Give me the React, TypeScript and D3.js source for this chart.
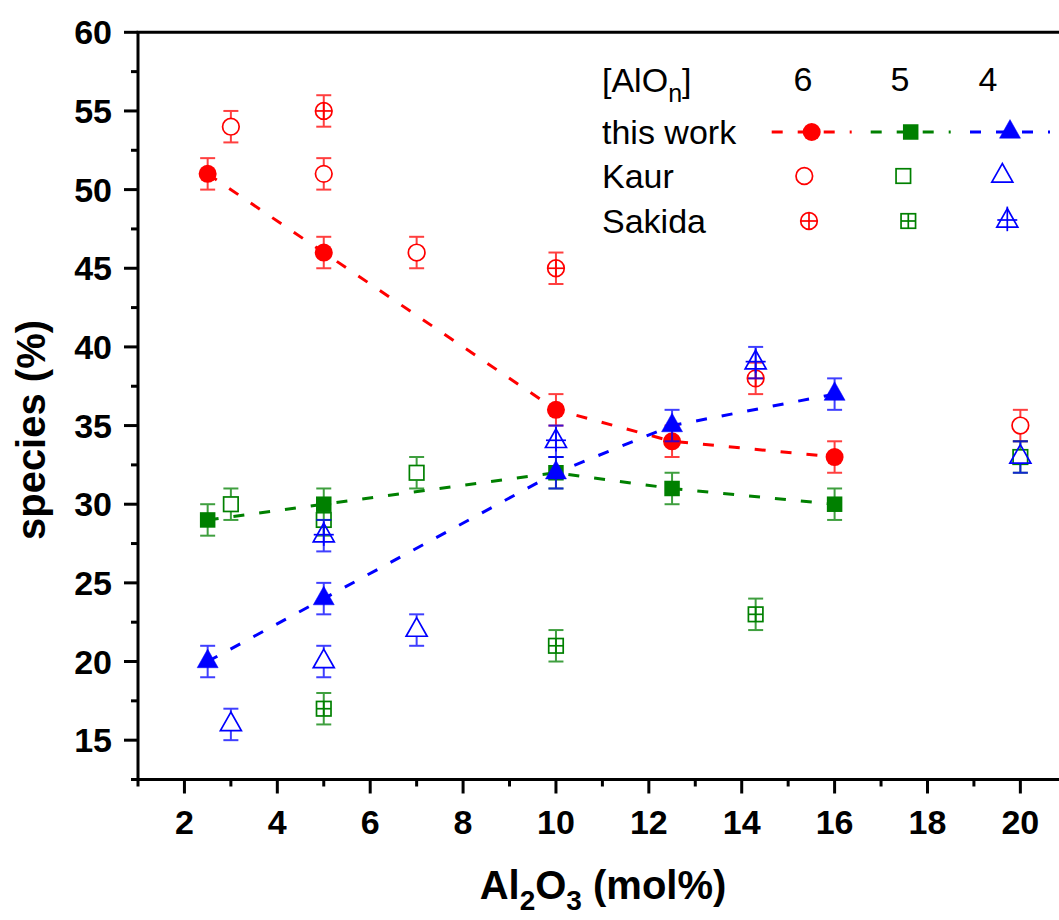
import React from "react";
import * as d3 from "d3";

// ---------- data ----------
const thisWorkX = [2.5, 5, 10, 12.5, 16];
const thisWork6 = [51, 46, 36, 34, 33];
const thisWork5 = [29, 30, 32, 31, 30];
const thisWork4 = [20, 24, 32, 35, 37];

const kaurX = [3, 5, 7, 20];
const kaur6 = [54, 51, 46, 35];
const kaur5 = [30, 29, 32, 33];
const kaur4 = [16, 20, 22, 33];

const sakidaX = [5, 10, 14.3];
const sakida6 = [55, 45, 38];
const sakida5 = [17, 21, 23];
const sakida4 = [28, 34, 39];

const errorValue = 1;

const xTicksMajor = [2, 4, 6, 8, 10, 12, 14, 16, 18, 20];
const xTicksMinor = [1, 3, 5, 7, 9, 11, 13, 15, 17, 19, 21];
const yTicksMajor = [15, 20, 25, 30, 35, 40, 45, 50, 55, 60];
const yTicksMinor = [12.5, 17.5, 22.5, 27.5, 32.5, 37.5, 42.5, 47.5, 52.5, 57.5];

const speciesLabels = ["6", "5", "4"];
const seriesNames = ["this work", "Kaur", "Sakida"];

// ---------- style ----------
const RED = "#FF0000";
const GREEN = "#008000";
const BLUE = "#0000FF";
const COLORS = [RED, GREEN, BLUE];
const SHAPES = ["circle", "square", "triangle"] as const;
type Shape = (typeof SHAPES)[number];
const FONT = "'Liberation Sans', Arial, Helvetica, sans-serif";

const W = 1059;
const H = 920;

const x = d3.scaleLinear().domain([1, 21]).range([138, 1066.8]);
const y = d3.scaleLinear().domain([12.5, 60]).range([779.5, 32.3]);

const TRI_SIDE = 21;
const TRI_H = 18.6;

function markerExtent(shape: Shape, filled: boolean) {
  if (shape === "circle") return { top: filled ? 9 : 8.5, bottom: filled ? 9 : 8.5 };
  if (shape === "square") return { top: 7.8, bottom: 7.8 };
  return { top: (TRI_H * 2) / 3, bottom: TRI_H / 3 };
}

function Marker({
  shape,
  cx,
  cy,
  color,
  filled,
  cross,
}: {
  shape: Shape;
  cx: number;
  cy: number;
  color: string;
  filled: boolean;
  cross: boolean;
}) {
  const sw = 1.7;
  const els: React.ReactNode[] = [];
  if (shape === "circle") {
    const r = filled ? 9 : 8.3;
    els.push(
      <circle key="m" cx={cx} cy={cy} r={r} fill={filled ? color : "none"} stroke={color} strokeWidth={filled ? 0 : sw} />
    );
    if (cross) {
      els.push(<line key="v" x1={cx} x2={cx} y1={cy - r} y2={cy + r} stroke={color} strokeWidth={sw} />);
      els.push(<line key="h" x1={cx - r} x2={cx + r} y1={cy} y2={cy} stroke={color} strokeWidth={sw} />);
    }
  } else if (shape === "square") {
    const s = filled ? 15.5 : 14.5;
    els.push(
      <rect key="m" x={cx - s / 2} y={cy - s / 2} width={s} height={s} fill={filled ? color : "none"} stroke={color} strokeWidth={filled ? 0 : sw} />
    );
    if (cross) {
      els.push(<line key="v" x1={cx} x2={cx} y1={cy - s / 2} y2={cy + s / 2} stroke={color} strokeWidth={sw} />);
      els.push(<line key="h" x1={cx - s / 2} x2={cx + s / 2} y1={cy} y2={cy} stroke={color} strokeWidth={sw} />);
    }
  } else {
    const top = cy - (TRI_H * 2) / 3;
    const bot = cy + TRI_H / 3;
    const pts = `${cx},${top} ${cx - TRI_SIDE / 2},${bot} ${cx + TRI_SIDE / 2},${bot}`;
    els.push(
      <polygon key="m" points={pts} fill={filled ? color : "none"} stroke={color} strokeWidth={filled ? 0.5 : sw} strokeLinejoin="miter" />
    );
    if (cross) {
      els.push(<line key="v" x1={cx} x2={cx} y1={top - 2} y2={bot + 4} stroke={color} strokeWidth={sw} />);
      els.push(<line key="h" x1={cx - 10} x2={cx + 10} y1={cy - 1} y2={cy - 1} stroke={color} strokeWidth={sw} />);
    }
  }
  return <g>{els}</g>;
}

function ErrorBar({
  cx,
  v,
  color,
  shape,
  filled,
  through,
}: {
  cx: number;
  v: number;
  color: string;
  shape: Shape;
  filled: boolean;
  through: boolean;
}) {
  const cy = y(v);
  const yt = y(v + errorValue);
  const yb = y(v - errorValue);
  const ext = markerExtent(shape, filled);
  const cap = 7.5;
  const sw = 2;
  return (
    <g stroke={color} strokeWidth={sw} opacity={0.75}>
      {through ? (
        <line x1={cx} x2={cx} y1={yt} y2={yb} />
      ) : (
        <>
          <line x1={cx} x2={cx} y1={yt} y2={cy - ext.top} />
          <line x1={cx} x2={cx} y1={cy + ext.bottom} y2={yb} />
        </>
      )}
      <line x1={cx - cap} x2={cx + cap} y1={yt} y2={yt} />
      <line x1={cx - cap} x2={cx + cap} y1={yb} y2={yb} />
    </g>
  );
}

export default function App() {
  const twSeries = [thisWork6, thisWork5, thisWork4];
  const kaurSeries = [kaur6, kaur5, kaur4];
  const sakSeries = [sakida6, sakida5, sakida4];

  const line = d3
    .line<number>()
    .x((_, i) => x(thisWorkX[i]))
    .y((d) => y(d));

  const groups = [
    { xs: thisWorkX, series: twSeries, filled: true, cross: false },
    { xs: kaurX, series: kaurSeries, filled: false, cross: false },
    { xs: sakidaX, series: sakSeries, filled: false, cross: true },
  ];

  const plotLeft = x(1);
  const plotBottom = y(12.5);
  const plotTop = y(60);

  // legend geometry
  const legTextX = 602;
  const legBase = [92, 144, 188, 233];
  const legLineCenters = [811.7, 910.7, 1010];
  const legMarkerX = [
    [811.7, 910.7, 1010],
    [804.3, 903.3, 1002.3],
    [809, 908.3, 1007.3],
  ];
  const legNumX = [803, 900, 988];

  return (
    <svg width={W} height={H} style={{ position: "absolute", left: 0, top: 0, background: "#fff" }} fontFamily={FONT}>
      <rect x={0} y={0} width={W} height={H} fill="#fff" />

      {/* this work lines */}
      {twSeries.map((s, i) => (
        <path key={"l" + i} d={line(s) || ""} fill="none" stroke={COLORS[i]} strokeWidth={3} strokeDasharray="11,15" />
      ))}

      {/* data points */}
      {groups.map((g, gi) =>
        g.series.map((s, si) =>
          s.map((v, pi) => {
            const cx = x(g.xs[pi]);
            return (
              <g key={`p${gi}-${si}-${pi}`}>
                <ErrorBar cx={cx} v={v} color={COLORS[si]} shape={SHAPES[si]} filled={g.filled} through={g.filled || g.cross} />
                <Marker shape={SHAPES[si]} cx={cx} cy={y(v)} color={COLORS[si]} filled={g.filled} cross={g.cross} />
              </g>
            );
          })
        )
      )}

      {/* axes */}
      <g stroke="#000" strokeWidth={3}>
        <line x1={plotLeft} x2={plotLeft} y1={plotTop} y2={plotBottom + 1.5} />
        <line x1={plotLeft - 1.5} x2={W} y1={plotBottom} y2={plotBottom} />
        <line x1={plotLeft - 1.5} x2={W} y1={plotTop} y2={plotTop} />
        {yTicksMajor.map((t) => (
          <line key={"ym" + t} x1={plotLeft - 14} x2={plotLeft} y1={y(t)} y2={y(t)} />
        ))}
        {yTicksMinor.map((t) => (
          <line key={"yn" + t} x1={plotLeft - 7} x2={plotLeft} y1={y(t)} y2={y(t)} />
        ))}
        {xTicksMajor.map((t) => (
          <line key={"xm" + t} x1={x(t)} x2={x(t)} y1={plotBottom} y2={plotBottom + 14} />
        ))}
        {xTicksMinor.map((t) => (
          <line key={"xn" + t} x1={x(t)} x2={x(t)} y1={plotBottom} y2={plotBottom + 7} />
        ))}
      </g>

      {/* tick labels */}
      <g fontSize={34} fontWeight="bold" fill="#000">
        {yTicksMajor.map((t) => (
          <text key={"yl" + t} x={112} y={y(t) + 12} textAnchor="end">
            {t}
          </text>
        ))}
        {xTicksMajor.map((t) => (
          <text key={"xl" + t} x={x(t)} y={834} textAnchor="middle">
            {t}
          </text>
        ))}
      </g>

      {/* axis titles */}
      <text x={603} y={899} textAnchor="middle" fontSize={40} fontWeight="bold">
        Al<tspan fontSize={28} dy={11}>2</tspan>
        <tspan dy={-11}>O</tspan>
        <tspan fontSize={28} dy={11}>3</tspan>
        <tspan dy={-11}> (mol%)</tspan>
      </text>
      <text transform={`translate(45,430) rotate(-90)`} textAnchor="middle" fontSize={40} fontWeight="bold">
        species (%)
      </text>

      {/* legend */}
      <g fontSize={34} fill="#000">
        <text x={legTextX} y={legBase[0]}>
          [AlO<tspan fontSize={25} dy={10}>n</tspan>
          <tspan dy={-10}>]</tspan>
        </text>
        {speciesLabels.map((l, i) => (
          <text key={"sl" + i} x={legNumX[i]} y={legBase[0] - 1} textAnchor="middle">
            {l}
          </text>
        ))}
        {seriesNames.map((n, i) => (
          <text key={"sn" + i} x={legTextX} y={legBase[i + 1]}>
            {n}
          </text>
        ))}
      </g>
      {COLORS.map((c, i) => (
        <line
          key={"ll" + i}
          x1={legLineCenters[i] - 40}
          x2={legLineCenters[i] + 40}
          y1={legBase[1] - 12}
          y2={legBase[1] - 12}
          stroke={c}
          strokeWidth={3}
          strokeDasharray="11,15"
        />
      ))}
      {groups.map((g, gi) =>
        COLORS.map((c, si) => (
          <Marker
            key={`lm${gi}-${si}`}
            shape={SHAPES[si]}
            cx={legMarkerX[gi][si]}
            cy={legBase[gi + 1] - 12}
            color={c}
            filled={g.filled}
            cross={g.cross}
          />
        ))
      )}
    </svg>
  );
}
